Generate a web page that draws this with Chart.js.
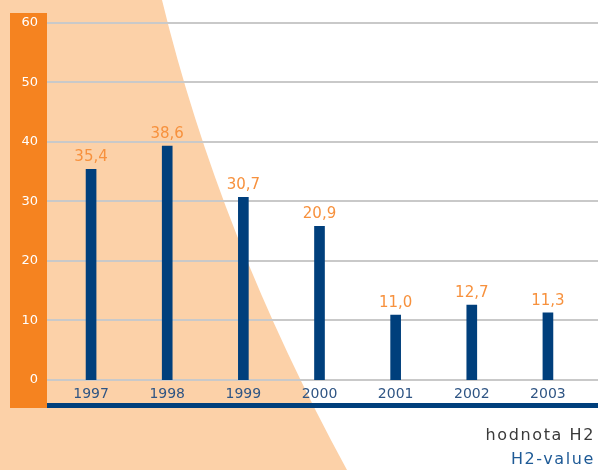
<!DOCTYPE html>
<html>
<head>
<meta charset="utf-8">
<script src="https://cdn.jsdelivr.net/npm/chart.js@4"></script>
<style>
  html, body { margin: 0; padding: 0; background: #ffffff; }
  #wrap { width: 598px; height: 470px; position: relative; }
</style>
</head>
<body>
<div id="wrap"><canvas id="c"></canvas></div>
<script>
// ---- data ----
const categories = ['1997', '1998', '1999', '2000', '2001', '2002', '2003'];
const barValues = [35.4, 39.3, 30.7, 25.8, 10.9, 12.6, 11.3];
const valueLabels = ['35,4', '38,6', '30,7', '20,9', '11,0', '12,7', '11,3'];
const yMin = 0, yMax = 60, yStep = 10;
const captionLines = ['hodnota H2', 'H2-value'];

const FONT = "'DejaVu Sans', sans-serif";

const decor = {
  id: 'decor',
  beforeDraw(chart) {
    const ctx = chart.ctx;
    const W = chart.width, H = chart.height;
    ctx.save();
    ctx.fillStyle = '#ffffff';
    ctx.fillRect(0, 0, W, H);
    // peach background shape
    ctx.fillStyle = '#fcd1a8';
    ctx.beginPath();
    ctx.moveTo(0, 0);
    ctx.lineTo(162, 0);
    ctx.quadraticCurveTo(219, 235, 347, 470);
    ctx.lineTo(0, 470);
    ctx.closePath();
    ctx.fill();
    // orange band behind y labels
    ctx.fillStyle = '#f58320';
    ctx.fillRect(10, 13, 37, 395);
    ctx.restore();
  },
  beforeDatasetsDraw(chart) {
    const ctx = chart.ctx;
    const ys = chart.scales.y;
    ctx.save();
    ctx.strokeStyle = '#c9c9c9';
    ctx.lineWidth = 2;
    ys.ticks.forEach(t => {
      const y = Math.round(ys.getPixelForValue(t.value));
      ctx.beginPath();
      ctx.moveTo(47, y);
      ctx.lineTo(chart.width, y);
      ctx.stroke();
    });
    ctx.restore();
  },
  afterDatasetsDraw(chart) {
    const ctx = chart.ctx;
    ctx.save();
    // bottom blue rule
    ctx.fillStyle = '#003f7c';
    ctx.fillRect(47, 403, chart.width - 47, 5);
    // value labels
    const meta = chart.getDatasetMeta(0);
    ctx.font = '15px ' + FONT;
    ctx.fillStyle = '#f7913d';
    ctx.textAlign = 'center';
    ctx.textBaseline = 'alphabetic';
    meta.data.forEach((bar, i) => {
      ctx.fillText(valueLabels[i], bar.x, bar.y - 8);
    });
    // caption
    ctx.textAlign = 'right';
    ctx.font = '16px ' + FONT;
    try { ctx.letterSpacing = '1.6px'; } catch (e) {}
    ctx.fillStyle = '#3a3a3a';
    ctx.fillText(captionLines[0], 595, 440);
    ctx.fillStyle = '#1e5a96';
    ctx.fillText(captionLines[1], 595, 464);
    ctx.restore();
  }
};

new Chart(document.getElementById('c'), {
  type: 'bar',
  data: {
    labels: categories,
    datasets: [{
      data: barValues,
      backgroundColor: '#003f7c',
      borderWidth: 0,
      barThickness: 10
    }]
  },
  options: {
    responsive: true,
    maintainAspectRatio: false,
    animation: false,
    devicePixelRatio: 1,
    layout: { padding: { top: 22, right: 12, bottom: 0, left: 0 } },
    plugins: {
      legend: { display: false },
      tooltip: { enabled: false },
      title: { display: false }
    },
    scales: {
      x: {
        grid: { display: false, drawTicks: false },
        border: { display: false },
        ticks: {
          color: '#2f5584',
          font: { family: FONT, size: 14 },
          padding: 6,
          maxRotation: 0
        },
        afterFit(s) { s.height = 90; }
      },
      y: {
        min: yMin,
        max: yMax,
        grid: { display: false, drawTicks: false },
        border: { display: false },
        ticks: {
          stepSize: yStep,
          color: '#ffffff',
          font: { family: FONT, size: 13 },
          padding: 15
        },
        afterFit(s) { s.width = 53; }
      }
    }
  },
  plugins: [decor]
});
</script>
</body>
</html>
